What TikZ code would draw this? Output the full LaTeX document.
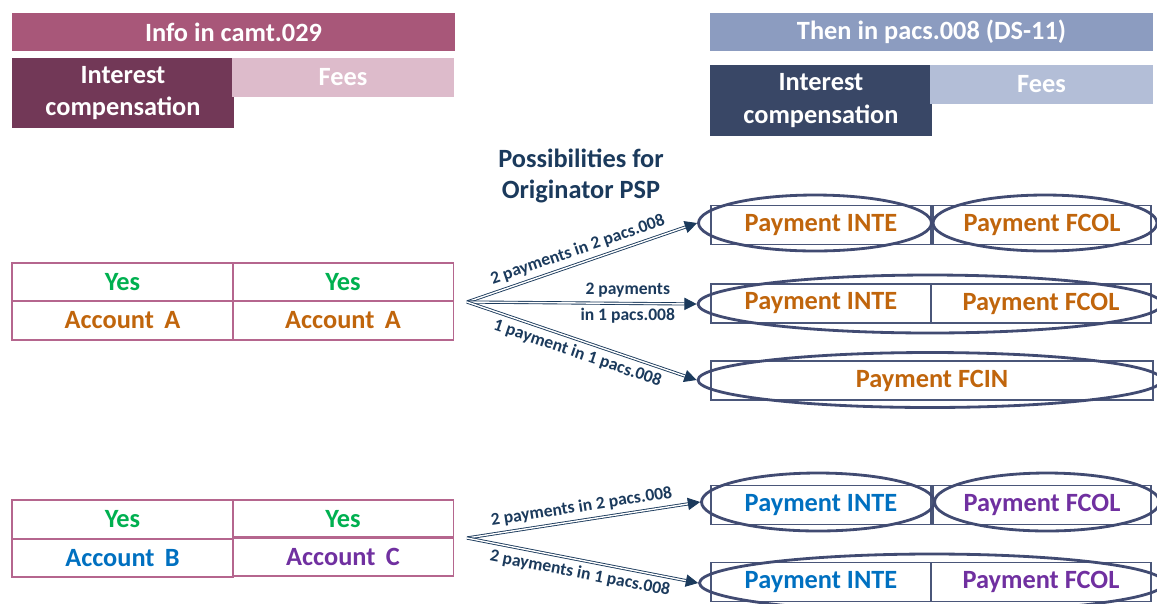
\documentclass[tikz,border=0pt]{standalone}
\usepackage{fontspec}
\setmainfont{Carlito}
\usetikzlibrary{shapes.geometric,arrows.meta}

\definecolor{camthead}{HTML}{A85779}
\definecolor{camtint}{HTML}{723857}
\definecolor{camtfee}{HTML}{DDBBCB}
\definecolor{pacshead}{HTML}{8C9CC0}
\definecolor{pacsint}{HTML}{394766}
\definecolor{pacsfee}{HTML}{B3BED7}
\definecolor{navy}{HTML}{1B3A5C}
\definecolor{ovalline}{HTML}{414B72}
\definecolor{boxline}{HTML}{4A5679}
\definecolor{pinkline}{HTML}{B5668E}
\definecolor{yesgreen}{HTML}{00B050}
\definecolor{accorange}{HTML}{C0650C}
\definecolor{accblue}{HTML}{0070C0}
\definecolor{accpurple}{HTML}{7030A0}

\begin{document}
\begin{tikzpicture}[x=0.02cm,y=-0.02cm,
  bar/.style={inner sep=0,outer sep=0,text=white,align=center,font=\bfseries\fontsize{15}{18.5}\selectfont},
  leftcell/.style={draw=pinkline,line width=1.1pt,inner sep=0,minimum width=4.42cm,minimum height=0.77cm,font=\bfseries\fontsize{15}{18}\selectfont},
  paycell/.style={draw=boxline,line width=0.8pt,inner sep=0,minimum height=0.78cm,font=\bfseries\fontsize{15}{18}\selectfont},
  oval/.style={ellipse,draw=ovalline,line width=1.6pt,inner sep=0},
  link/.style={draw=navy,line width=0.5pt,double=white,double distance=0.8pt,-{Triangle[length=7pt,width=7pt]}},
  lbl/.style={text=navy,font=\bfseries\fontsize{10}{11}\selectfont,inner sep=3pt}]
\useasboundingbox (0,0) rectangle (1157,603);

% headers
\node[bar,fill=camthead,minimum width=8.86cm,minimum height=0.76cm] (camt) at (233.5,32) {Info in camt.029};
\node[bar,fill=camtint,minimum width=4.44cm,minimum height=1.4cm] (camtint) at (123,93) {Interest\\compensation};
\node[bar,fill=camtfee,minimum width=4.44cm,minimum height=0.78cm] (camtfee) at (343,77.5) {Fees};
\node[bar,fill=pacshead,minimum width=8.86cm,minimum height=0.76cm] (pacs) at (931.5,32) {Then in pacs.008 (DS-11)};
\node[bar,fill=pacsint,minimum width=4.44cm,minimum height=1.42cm] (pacsint) at (821,100.5) {Interest\\compensation};
\node[bar,fill=pacsfee,minimum width=4.46cm,minimum height=0.78cm] (pacsfee) at (1041.5,84.5) {Fees};

\node[text=navy,align=center,font=\bfseries\fontsize{15}{18}\selectfont] (poss) at (581,176) {Possibilities for\\Originator PSP};

% camt.029 cases
\node[leftcell,text=yesgreen] (yesA1) at (122.5,282) {Yes};
\node[leftcell,text=yesgreen] (yesA2) at (343,282) {Yes};
\node[leftcell,text=accorange] (accA1) at (122.5,320.5) {Account\, A};
\node[leftcell,text=accorange] (accA2) at (343,320.5) {Account\, A};
\node[leftcell,text=yesgreen] (yesB1) at (122.5,519.5) {Yes};
\node[leftcell,text=yesgreen] (yesB2) at (343,519) {Yes};
\node[leftcell,text=accblue] (accB) at (122.5,558) {Account\, B};
\node[leftcell,text=accpurple] (accC) at (343,556.5) {Account\, C};

% pacs.008 payments
\node[paycell,minimum width=4.4cm,text=accorange] (p1a) at (821,225) {Payment INTE};
\node[paycell,minimum width=4.36cm,text=accorange] (p1b) at (1042,225) {Payment FCOL};
\node[paycell,minimum width=4.4cm,text=accorange] (p2a) at (821,303.5) {Payment INTE};
\node[paycell,minimum width=4.4cm,text=accorange] (p2b) at (1041,303.5) {Payment FCOL};
\node[paycell,minimum width=8.84cm,text=accorange] (p3) at (932,380.5) {Payment FCIN};
\node[paycell,minimum width=4.4cm,text=accblue] (p4a) at (821,505) {Payment INTE};
\node[paycell,minimum width=4.36cm,text=accpurple] (p4b) at (1042,505) {Payment FCOL};
\node[paycell,minimum width=4.4cm,text=accblue] (p5a) at (821,582) {Payment INTE};
\node[paycell,minimum width=4.4cm,text=accpurple] (p5b) at (1041,582) {Payment FCOL};

\node[oval,minimum width=4.66cm,minimum height=1.12cm] (e1a) at (815,223) {};
\node[oval,minimum width=4.48cm,minimum height=1.12cm] (e1b) at (1045,223) {};
\node[oval,minimum width=9.28cm,minimum height=1.16cm] (e2) at (930,304) {};
\node[oval,minimum width=9.28cm,minimum height=1.1cm] (e3) at (930,380) {};
\node[oval,minimum width=4.66cm,minimum height=1.16cm] (e4a) at (818,502) {};
\node[oval,minimum width=4.5cm,minimum height=1.16cm] (e4b) at (1047,502) {};
\node[oval,minimum width=9.3cm,minimum height=1.16cm] (e5) at (932,583) {};

% possibilities
\coordinate (oA) at (467,302);
\coordinate (oB) at (467,538);
\draw[link] (oA) -- (e1a.west) node[lbl,midway,sloped,above] {2 payments in 2 pacs.008};
\draw[link] (oA) -- (e2.west) node[lbl,pos=0.7,align=center,font=\bfseries\fontsize{10}{15}\selectfont] {2 payments\\in 1 pacs.008};
\draw[link] (oA) -- (e3.west) node[lbl,midway,sloped,below] {1 payment in 1 pacs.008};
\draw[link] (oB) -- (e4a.west) node[lbl,midway,sloped,above] {2 payments in 2 pacs.008};
\draw[link] (oB) -- (e5.west) node[lbl,midway,sloped,below] {2 payments in 1 pacs.008};
\end{tikzpicture}
\end{document}
